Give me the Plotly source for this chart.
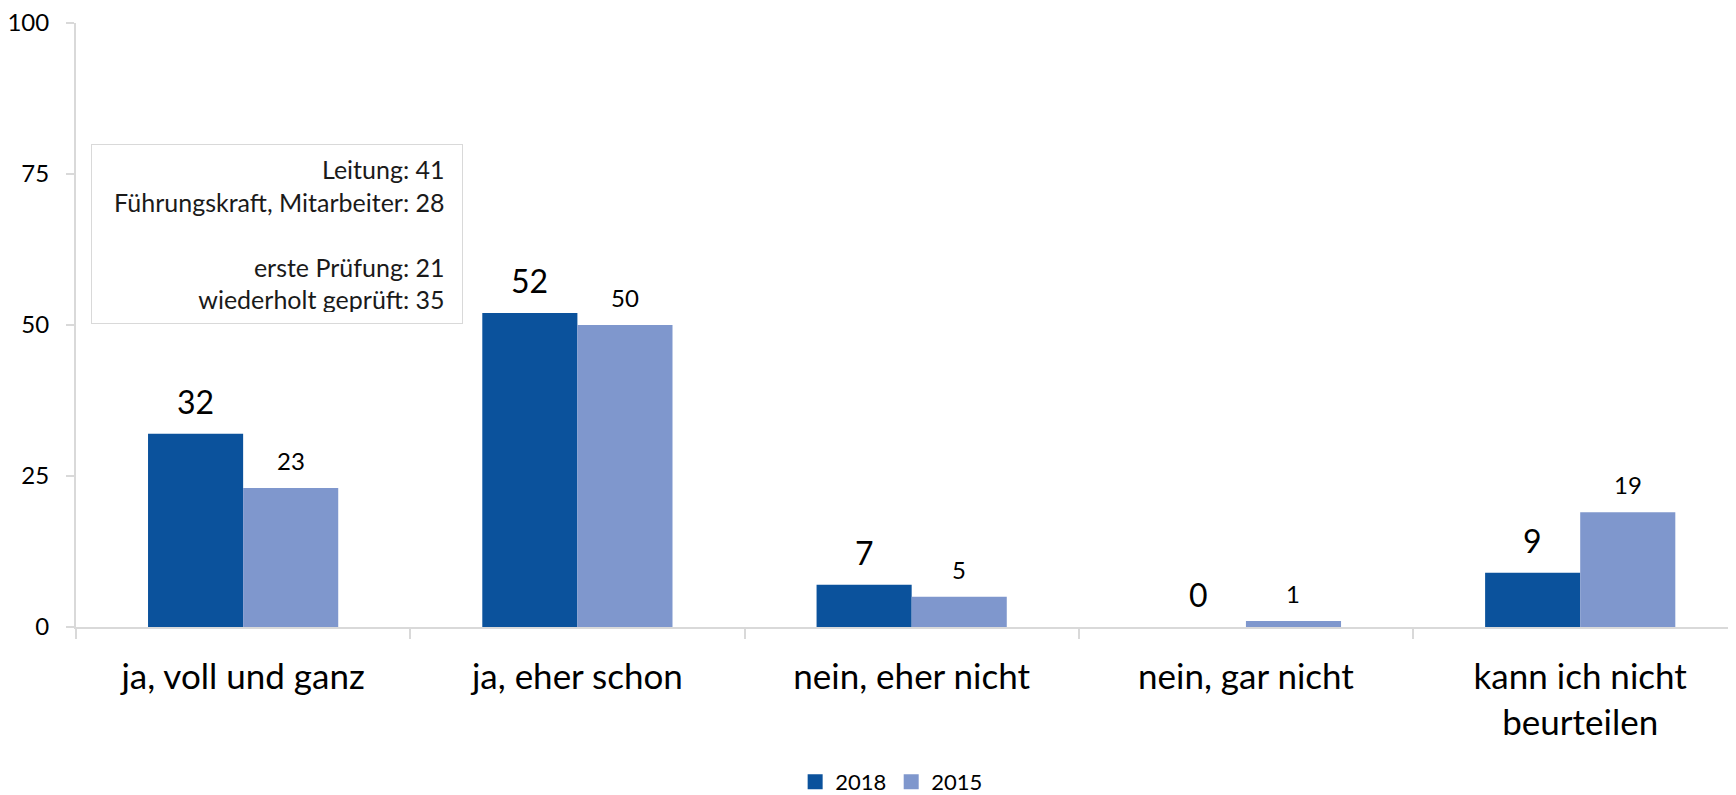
import plotly.graph_objects as go

categories = ["ja, voll und ganz", "ja, eher schon", "nein, eher nicht",
              "nein, gar nicht", "kann ich nicht<br>beurteilen"]
values_2018 = [32, 52, 7, 0, 9]
values_2015 = [23, 50, 5, 1, 19]
y_ticks = [0, 25, 50, 75, 100]
info_lines = ["Leitung: 41", "Führungskraft, Mitarbeiter: 28", "",
              "erste Prüfung: 21", "wiederholt geprüft: 35"]

DARK = "#0B529C"
LIGHT = "#7F97CD"
AXIS = "#D9D9D9"
FONT = "Lato, 'Open Sans', sans-serif"

fig = go.Figure()
fig.add_trace(go.Bar(x=categories, y=values_2018, name="2018",
                     marker={"color": DARK, "line": {"width": 0}},
                     showlegend=False))
fig.add_trace(go.Bar(x=categories, y=values_2015, name="2015",
                     marker={"color": LIGHT, "line": {"width": 0}},
                     showlegend=False))
# Legendeneinträge mit größeren Quadraten
for name, color in (("2018", DARK), ("2015", LIGHT)):
    fig.add_trace(go.Scatter(x=[None], y=[None], mode="markers", name=name,
                             marker={"symbol": "square", "size": 15,
                                     "color": color}))

# Datenbeschriftungen über den Balken
for cat, v18, v15 in zip(categories, values_2018, values_2015):
    fig.add_annotation(x=cat, y=v18, text=str(v18), showarrow=False,
                       xshift=-47.5, yshift=11, yanchor="bottom",
                       font={"size": 32, "color": "#000000"})
    fig.add_annotation(x=cat, y=v15, text=str(v15), showarrow=False,
                       xshift=47.5, yshift=11, yanchor="bottom",
                       font={"size": 24, "color": "#000000"})

fig.add_annotation(
    xref="paper", yref="paper", x=0.232, y=0.8,
    xanchor="right", yanchor="top",
    text="<br>".join(line + "&nbsp;" for line in info_lines),
    align="right", showarrow=False,
    width=348, height=156, borderpad=11, bordercolor=AXIS, borderwidth=1,
    font={"size": 25, "color": "#1a1a1a"},
)

fig.update_layout(
    width=1736, height=795,
    margin={"l": 68, "r": 0, "t": 15, "b": 175},
    paper_bgcolor="white", plot_bgcolor="white",
    font={"family": FONT, "color": "#000000"},
    barmode="group", bargap=0.431, bargroupgap=0,
    showlegend=True,
    legend={"orientation": "h", "x": 0.489, "xanchor": "center",
            "y": -0.256, "yanchor": "middle", "font": {"size": 22},
            "traceorder": "normal", "itemwidth": 30},
)
fig.update_xaxes(
    range=[-0.5, 4.49], showline=True, linecolor=AXIS, linewidth=2,
    ticks="outside", tickson="boundaries", ticklen=10, tickcolor=AXIS,
    tickwidth=2, showgrid=False, tickfont={"size": 35},
    ticklabelstandoff=18,
)
fig.update_yaxes(
    range=[0, 100], tickvals=y_ticks, showline=True, linecolor=AXIS,
    linewidth=2, ticks="outside", ticklen=8, tickcolor=AXIS, tickwidth=2,
    showgrid=False, zeroline=False, tickfont={"size": 24},
    ticklabelstandoff=12, ticklabeloverflow="allow",
)

fig.write_html("out.html")
